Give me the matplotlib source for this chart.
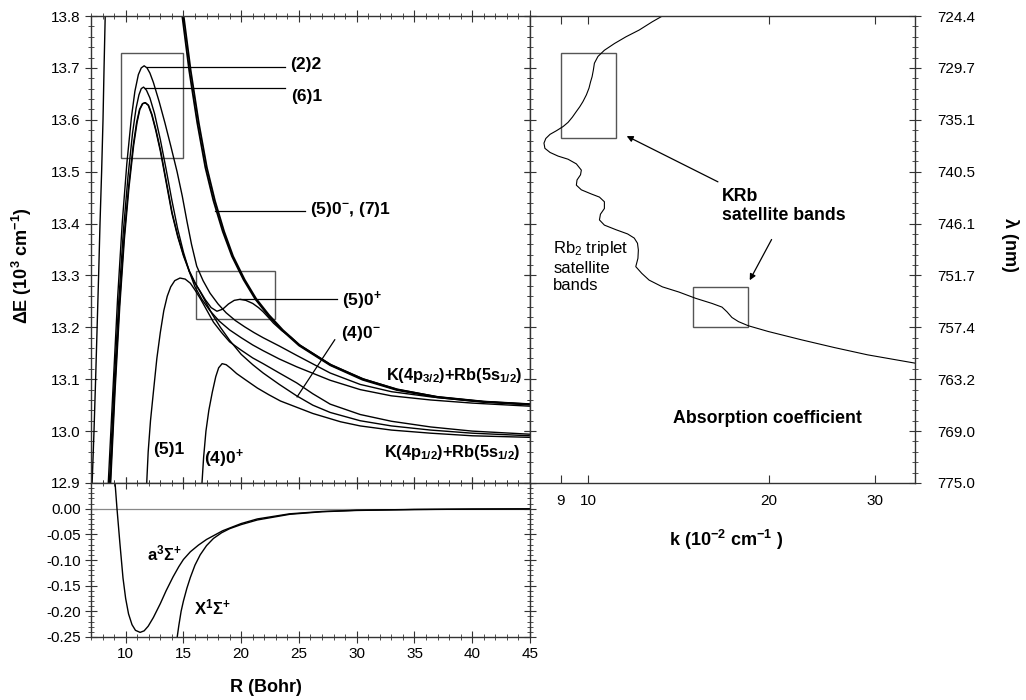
import matplotlib
matplotlib.use('Agg')
import matplotlib.pyplot as plt
from matplotlib.patches import Rectangle
from matplotlib.ticker import MultipleLocator, FixedLocator, NullLocator, FormatStrFormatter

plt.rcParams['font.family'] = ['Liberation Sans', 'DejaVu Sans']
plt.rcParams['mathtext.default'] = 'regular'

# ---- upper left panel: excited potential curves (R in Bohr, dE in 10^3 cm-1)
rep_R = [7.05, 7.26, 7.40, 7.53, 7.66, 7.78, 7.92, 8.04, 8.13, 8.21, 8.26]
rep_E = [12.87, 13.0, 13.1, 13.2, 13.3, 13.4, 13.5, 13.6, 13.7, 13.78, 13.83]

# (5)0- and (7)1 (nearly on top of each other)
b1_R = [14.7, 14.9, 15.5, 16.2, 16.9, 17.6, 18.4, 19.2, 20.2, 21.2, 22.3, 23.5, 25.0, 27.7, 30.5, 33.5, 37.0, 41.0, 45.0]
b1_E = [13.84, 13.80, 13.695, 13.594, 13.508, 13.444, 13.385, 13.337, 13.292, 13.255, 13.224, 13.195, 13.165,
        13.127, 13.099, 13.079, 13.065, 13.056, 13.051]
b2_R = [14.82, 15.02, 15.63, 16.33, 17.03, 17.73, 18.52, 19.3, 20.3, 21.3, 22.4, 23.6, 25.1, 27.8, 30.6, 33.5, 37.0, 41.0, 45.0]
b2_E = [13.84, 13.80, 13.695, 13.594, 13.508, 13.444, 13.385, 13.337, 13.292, 13.255, 13.224, 13.195, 13.165,
        13.127, 13.100, 13.080, 13.066, 13.057, 13.052]

# (2)2
s22_R = [8.45, 8.9, 9.3, 9.7, 10.1, 10.5, 10.8, 11.1, 11.35, 11.6, 11.85, 12.1, 12.4, 12.9, 13.4, 13.9, 14.45, 14.9,
         15.3, 15.7, 16.15, 16.7, 17.3, 18.0, 18.7, 19.5, 20.3, 21.1, 21.9, 23.3, 24.8, 27.7, 30.3, 33.0, 36.4, 40.0, 45.0]
s22_E = [12.88, 13.08, 13.255, 13.40, 13.515, 13.605, 13.655, 13.687, 13.700, 13.704, 13.700, 13.69, 13.672, 13.635,
         13.594, 13.55, 13.50, 13.453, 13.405, 13.36, 13.318, 13.29, 13.266, 13.245, 13.228, 13.213, 13.201, 13.19,
         13.18, 13.164, 13.146, 13.112, 13.09, 13.076, 13.066, 13.058, 13.051]

# (6)1
s61_R = [8.55, 9.0, 9.4, 9.8, 10.2, 10.6, 10.9, 11.15, 11.35, 11.55, 11.8, 12.1, 12.5, 13.0, 13.5, 14.0, 14.5, 15.0,
         15.5, 16.0, 16.6, 17.3, 18.1, 19.0, 20.0, 21.0, 21.9, 23.3, 24.8, 27.7, 30.3, 33.0, 36.4, 40.0, 45.0]
s61_E = [12.88, 13.09, 13.25, 13.385, 13.49, 13.575, 13.622, 13.648, 13.66, 13.663, 13.657, 13.642, 13.612, 13.562,
         13.505, 13.445, 13.39, 13.345, 13.308, 13.278, 13.254, 13.232, 13.212, 13.195, 13.18, 13.166, 13.155, 13.139,
         13.124, 13.098, 13.08, 13.068, 13.06, 13.054, 13.048]

# (5)0+
s50p_R = [8.62, 9.05, 9.45, 9.85, 10.25, 10.65, 10.95, 11.2, 11.45, 11.68, 11.95, 12.25, 12.6, 13.0, 13.5, 14.0, 14.5,
          15.0, 15.5, 16.0, 16.44, 16.9, 17.4, 17.9, 18.4, 18.9, 19.4, 19.9, 20.4, 21.0, 21.5, 21.9, 22.4, 22.8, 23.5,
          24.3, 25.0, 27.7, 30.5, 33.5, 37.0, 41.0, 45.0]
s50p_E = [12.88, 13.08, 13.24, 13.37, 13.47, 13.55, 13.595, 13.62, 13.631, 13.633, 13.628, 13.61, 13.58, 13.54, 13.48,
          13.42, 13.375, 13.338, 13.308, 13.285, 13.27, 13.253, 13.238, 13.231, 13.235, 13.245, 13.252, 13.254, 13.252,
          13.246, 13.238, 13.23, 13.218, 13.208, 13.194, 13.181, 13.167, 13.129, 13.101, 13.081, 13.066, 13.057, 13.052]

# (4)0-
s40m_R = [8.66, 9.09, 9.49, 9.89, 10.29, 10.69, 10.99, 11.23, 11.48, 11.71, 11.98, 12.28, 12.63, 13.03, 13.53, 14.03,
          14.53, 15.03, 15.53, 16.03, 16.46, 16.9, 17.5, 18.2, 19.0, 20.0, 21.0, 21.9, 23.3, 24.8, 26.2, 27.7, 30.3,
          33.0, 36.4, 40.0, 45.0]
s40m_E = [12.88, 13.08, 13.24, 13.37, 13.47, 13.55, 13.595, 13.62, 13.631, 13.633, 13.628, 13.61, 13.58, 13.54, 13.48,
          13.42, 13.375, 13.338, 13.308, 13.285, 13.268, 13.25, 13.225, 13.2, 13.175, 13.148, 13.128, 13.112, 13.09,
          13.068, 13.05, 13.036, 13.02, 13.01, 13.002, 12.996, 12.991]

# (5)1
s51_R = [11.78, 11.95, 12.15, 12.4, 12.7, 13.0, 13.3, 13.6, 13.9, 14.25, 14.7, 15.15, 15.6, 16.0, 16.5, 17.0, 17.6,
         18.3, 19.0, 20.0, 21.0, 21.9, 23.3, 24.8, 26.2, 27.7, 30.3, 33.0, 36.4, 40.0, 45.0]
s51_E = [12.88, 12.96, 13.02, 13.075, 13.14, 13.19, 13.232, 13.26, 13.278, 13.29, 13.295, 13.293, 13.285, 13.272,
         13.254, 13.234, 13.21, 13.19, 13.172, 13.156, 13.141, 13.13, 13.112, 13.093, 13.072, 13.052, 13.032, 13.019,
         13.008, 13.0, 12.994]

# (4)0+
s40p_R = [16.55, 16.75, 16.95, 17.2, 17.5, 17.8, 18.05, 18.35, 18.7, 19.1, 19.6, 20.3, 21.4, 22.4, 23.4, 24.8, 26.2,
          28.6, 30.3, 33.0, 36.4, 40.0, 45.0]
s40p_E = [12.88, 12.95, 13.0, 13.04, 13.075, 13.105, 13.122, 13.13, 13.128, 13.121, 13.111, 13.1, 13.083, 13.07,
          13.058, 13.046, 13.034, 13.018, 13.01, 13.002, 12.996, 12.991, 12.988]

# ---- lower left panel: ground states
a3_R = [9.05, 9.25, 9.5, 9.77, 10.0, 10.25, 10.55, 10.85, 11.25, 11.6, 11.95, 12.4, 13.0, 13.5, 14.1, 14.6, 15.0,
        15.6, 16.3, 17.0, 18.4, 20.0, 21.4, 24.2, 27.0, 30.0, 35.0, 40.0, 45.0]
a3_E = [0.06, 0.0, -0.067, -0.135, -0.175, -0.205, -0.226, -0.237, -0.241, -0.238, -0.229, -0.212, -0.185, -0.16,
        -0.133, -0.113, -0.099, -0.084, -0.071, -0.06, -0.043, -0.029, -0.02, -0.01, -0.0055, -0.003, -0.0015,
        -0.0008, -0.0004]
x1_R = [14.4, 14.6, 14.8, 15.0, 15.3, 15.6, 16.0, 16.45, 17.0, 17.6, 18.3, 19.0, 20.0, 21.4, 24.2, 27.0, 30.0, 35.0,
        40.0, 45.0]
x1_E = [-0.26, -0.228, -0.2, -0.18, -0.155, -0.134, -0.11, -0.09, -0.072, -0.058, -0.047, -0.039, -0.031, -0.022,
        -0.011, -0.006, -0.0035, -0.0017, -0.0009, -0.0005]

# ---- right panel: absorption coefficient k (1e-2 cm-1) vs dE
abs_k = [13.29, 12.79, 12.16, 11.56, 11.06, 10.64, 10.38, 10.24, 10.20, 10.15, 10.09, 10.03, 9.93, 9.80, 9.68, 9.556,
         9.41, 9.256, 9.083, 8.856, 8.64, 8.50, 8.44, 8.47, 8.64, 8.91, 9.256, 9.556, 9.74, 9.71, 9.58, 9.556, 9.74,
         10.12, 10.44, 10.64, 10.64, 10.48, 10.44, 10.64, 11.13, 11.63, 11.93, 12.08, 12.12, 12.10, 12.0, 12.28,
         12.63, 13.29, 14.16, 15.09, 16.08, 16.7, 17.02, 17.35, 17.79, 18.48, 19.94, 22.64, 25.7, 29.18, 35.0]
abs_E = [13.80, 13.789, 13.773, 13.760, 13.747, 13.734, 13.722, 13.709, 13.696, 13.683, 13.673, 13.661, 13.648,
         13.635, 13.625, 13.616, 13.605, 13.595, 13.587, 13.579, 13.572, 13.564, 13.555, 13.545, 13.537, 13.530,
         13.524, 13.515, 13.503, 13.494, 13.484, 13.474, 13.465, 13.457, 13.451, 13.442, 13.429, 13.418, 13.407,
         13.397, 13.388, 13.380, 13.372, 13.362, 13.349, 13.333, 13.317, 13.304, 13.291, 13.278, 13.268, 13.256,
         13.246, 13.239, 13.230, 13.219, 13.211, 13.203, 13.192, 13.176, 13.161, 13.147, 13.131]

e_ticks = [13.8, 13.7, 13.6, 13.5, 13.4, 13.3, 13.2, 13.1, 13.0, 12.9]
lam_labels = ['724.4', '729.7', '735.1', '740.5', '746.1', '751.7', '757.4', '763.2', '769.0', '775.0']
k_ticks = [9, 10, 20, 30]

# highlight boxes (x0, x1, y0, y1)
box_left1 = [9.6, 14.97, 13.526, 13.729]
box_left2 = [16.09, 22.93, 13.217, 13.308]
box_right1 = [9.01, 11.13, 13.564, 13.729]
box_right2 = [14.95, 18.46, 13.20, 13.277]

fig = plt.figure(figsize=(10.26, 7.0), dpi=100)
ax1 = fig.add_axes([0.08869, 0.31, 0.42788, 0.66714])
ax2 = fig.add_axes([0.08869, 0.09, 0.42788, 0.22])
ax3 = fig.add_axes([0.51657, 0.31, 0.37524, 0.66714])

lc = 'black'
frame = '#333333'
lw = 1.0

# upper left
ax1.plot(rep_R, rep_E, color=lc, lw=lw)
ax1.plot(b1_R, b1_E, color=lc, lw=1.3)
ax1.plot(b2_R, b2_E, color=lc, lw=1.3)
for r, e in [(s22_R, s22_E), (s61_R, s61_E), (s50p_R, s50p_E), (s40m_R, s40m_E), (s51_R, s51_E), (s40p_R, s40p_E)]:
    ax1.plot(r, e, color=lc, lw=lw)

for b in [box_left1, box_left2]:
    ax1.add_patch(Rectangle((b[0], b[2]), b[1] - b[0], b[3] - b[2], fill=False, ec='#555555', lw=1.0))

# leader lines and labels
ax1.plot([11.85, 23.8], [13.702, 13.702], color=lc, lw=0.9)
ax1.plot([11.7, 23.8], [13.661, 13.661], color=lc, lw=0.9)
ax1.plot([17.75, 25.5], [13.425, 13.425], color=lc, lw=0.9)
ax1.plot([19.9, 28.3], [13.254, 13.254], color=lc, lw=0.9)
ax1.plot([24.84, 28.1], [13.066, 13.176], color=lc, lw=0.9)

tk = dict(fontsize=12.5, fontweight='bold', va='center', ha='left')
ax1.text(24.2, 13.706, '(2)2', **tk)
ax1.text(24.3, 13.644, '(6)1', **tk)
ax1.text(26.0, 13.428, '(5)0$^{-}$, (7)1', **tk)
ax1.text(28.7, 13.252, '(5)0$^{+}$', **tk)
ax1.text(28.6, 13.188, '(4)0$^{-}$', **tk)
ax1.text(32.5, 13.108, 'K(4p$_{3/2}$)+Rb(5s$_{1/2}$)', fontsize=11.8, fontweight='bold', va='center', ha='left')
ax1.text(32.4, 12.958, 'K(4p$_{1/2}$)+Rb(5s$_{1/2}$)', fontsize=11.8, fontweight='bold', va='center', ha='left')
ax1.text(12.4, 12.964, '(5)1', **tk)
ax1.text(16.8, 12.946, '(4)0$^{+}$', **tk)

ax1.set_xlim(7, 45)
ax1.set_ylim(12.9, 13.8)
ax1.xaxis.set_major_locator(MultipleLocator(5))
ax1.xaxis.set_minor_locator(MultipleLocator(1))
ax1.yaxis.set_major_locator(FixedLocator(e_ticks))
ax1.yaxis.set_minor_locator(MultipleLocator(0.02))
ax1.yaxis.set_major_formatter(FormatStrFormatter('%.1f'))
ax1.tick_params(labelbottom=False)

# lower left
ax2.axhline(0, color='#888888', lw=0.9)
ax2.plot(a3_R, a3_E, color=lc, lw=lw)
ax2.plot(x1_R, x1_E, color=lc, lw=lw)
ax2.text(11.85, -0.087, 'a$^{3}\\Sigma^{+}$', fontsize=12, fontweight='bold', va='center', ha='left')
ax2.text(15.95, -0.192, 'X$^{1}\\Sigma^{+}$', fontsize=12, fontweight='bold', va='center', ha='left')
ax2.set_xlim(7, 45)
ax2.set_ylim(-0.25, 0.05)
ax2.xaxis.set_major_locator(MultipleLocator(5))
ax2.xaxis.set_minor_locator(MultipleLocator(1))
ax2.yaxis.set_major_locator(FixedLocator([-0.25, -0.20, -0.15, -0.10, -0.05, 0.0]))
ax2.yaxis.set_minor_locator(MultipleLocator(0.01))
ax2.yaxis.set_major_formatter(FormatStrFormatter('%.2f'))
ax2.set_xticks([10, 15, 20, 25, 30, 35, 40, 45])

# right panel
ax3.plot(abs_k, abs_E, color=lc, lw=0.8)
ax3.set_xscale('log')
ax3.set_xlim(8, 35)
ax3.set_ylim(12.9, 13.8)
ax3.xaxis.set_major_locator(FixedLocator(k_ticks))
ax3.xaxis.set_minor_locator(NullLocator())
ax3.set_xticklabels([str(v) for v in k_ticks])
ax3.yaxis.set_major_locator(FixedLocator(e_ticks))
ax3.yaxis.set_minor_locator(MultipleLocator(0.02))
ax3.yaxis.tick_right()
ax3.set_yticklabels(lam_labels)
for b in [box_right1, box_right2]:
    ax3.add_patch(Rectangle((b[0], b[2]), b[1] - b[0], b[3] - b[2], fill=False, ec='#555555', lw=1.0))
ax3.annotate('', xy=(11.48, 13.571), xytext=(16.6, 13.478),
             arrowprops=dict(arrowstyle='-|>', color=lc, lw=0.9, mutation_scale=9))
ax3.annotate('', xy=(18.48, 13.286), xytext=(20.3, 13.374),
             arrowprops=dict(arrowstyle='-|>', color=lc, lw=0.9, mutation_scale=9))
ax3.text(16.7, 13.434, 'KRb\nsatellite bands', fontsize=12.8, fontweight='bold', ha='left', va='center',
         linespacing=1.15)
ax3.text(8.75, 13.318, 'Rb$_{2}$ triplet\nsatellite\nbands', fontsize=12, ha='left', va='center', linespacing=1.2)
ax3.text(19.9, 13.024, 'Absorption coefficient', fontsize=12.8, fontweight='bold', ha='center', va='center')

for ax in [ax1, ax2, ax3]:
    for s in ax.spines.values():
        s.set_color(frame)
        s.set_linewidth(1.0)
    ax.tick_params(which='major', direction='inout', length=8, width=0.8, color=frame, labelsize=11,
                   top=True, bottom=True)
    ax.tick_params(which='minor', direction='inout', length=4, width=0.6, color=frame, top=True, bottom=True)
ax1.tick_params(which='both', left=True, right=True)
ax2.tick_params(which='both', left=True, right=True)
ax3.tick_params(which='both', left=True, right=True, labelleft=False, labelright=True)
ax3.tick_params(axis='y', which='major', pad=12)
ax3.tick_params(axis='x', which='major', direction='in', length=6, pad=8)

fig.text(0.0215, 0.62, '$\\Delta$E (10$^{3}$ cm$^{-1}$)', rotation=90, ha='center', va='center',
         fontsize=13, fontweight='bold')
fig.text(0.259, 0.018, 'R (Bohr)', ha='center', va='center', fontsize=13, fontweight='bold')
fig.text(0.708, 0.229, 'k (10$^{-2}$ cm$^{-1}$ )', ha='center', va='center', fontsize=13, fontweight='bold')
fig.text(0.984, 0.65, '$\\lambda$ (nm)', rotation=-90, ha='center', va='center', fontsize=13,
         fontweight='bold')

fig.savefig('out.png', dpi=100)
